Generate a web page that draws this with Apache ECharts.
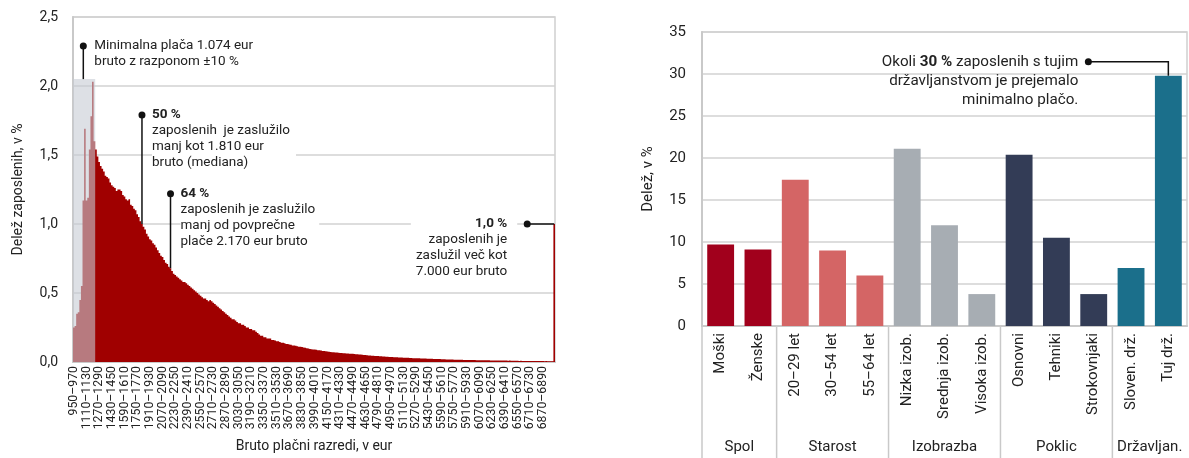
<!DOCTYPE html>
<html><head><meta charset="utf-8">
<script src="https://cdn.jsdelivr.net/npm/echarts@6/dist/echarts.min.js"></script>
<style>html,body{margin:0;padding:0;background:#fff}#c{width:1189px;height:458px}</style>
</head><body><div id="c"></div>
<script>
const FONT = 'Roboto, "Noto Sans", sans-serif';
const TXT = '#222';
const GRIDC = '#d2d2d2';

// ---------- Left panel: wage distribution ----------
const binStart = 950;
const binWidth = 20;
const lastBinLabel = '> 7000';
const histShares = [
  0.25, 0.26, 0.35, 0.36, 0.45, 0.55, 1.17, 1.69, 1.17, 1.19, 1.54, 1.78, 2.03, 1.60,
  1.54, 1.49, 1.45, 1.42, 1.40, 1.38, 1.35,
  1.34, 1.33, 1.30, 1.28, 1.27, 1.26, 1.24, 1.25,
  1.25, 1.24, 1.21, 1.20, 1.18, 1.17, 1.18,
  1.14, 1.13, 1.11, 1.10, 1.07, 1.05,
  1.02, 1.00, 0.98, 0.96, 0.93, 0.91,
  0.89, 0.88, 0.86, 0.85, 0.83, 0.81, 0.79,
  0.77, 0.76, 0.74, 0.72, 0.71, 0.69,
  0.68, 0.66, 0.64, 0.63, 0.62, 0.61,
  0.60, 0.59, 0.58, 0.58, 0.57, 0.56, 0.55,
  0.54, 0.53, 0.52, 0.51, 0.50, 0.49,
  0.48, 0.47, 0.46, 0.46, 0.45, 0.44, 0.45,
  0.44, 0.43, 0.42, 0.41, 0.40, 0.39,
  0.38, 0.37, 0.36, 0.35, 0.34, 0.33,
  0.32, 0.31, 0.31, 0.30, 0.29, 0.28,
  0.28, 0.27, 0.27, 0.26, 0.25, 0.25, 0.24,
  0.24, 0.23, 0.23, 0.22, 0.21, 0.20, 0.19, 0.19,
  0.18, 0.18, 0.17, 0.17, 0.17, 0.16, 0.16, 0.155,
  0.15, 0.15, 0.145, 0.14, 0.14, 0.135, 0.13, 0.13,
  0.127, 0.125, 0.12, 0.12, 0.118, 0.115, 0.11, 0.11,
  0.108, 0.105, 0.103, 0.10, 0.098, 0.095, 0.093, 0.09,
  0.09, 0.088, 0.086, 0.085, 0.083, 0.08, 0.079, 0.077,
  0.076, 0.074, 0.072, 0.071, 0.07, 0.069, 0.068, 0.067,
  0.066, 0.065, 0.064, 0.063, 0.062, 0.061, 0.06, 0.06,
  0.059, 0.058, 0.057, 0.056, 0.055, 0.054, 0.052, 0.051,
  0.05, 0.049, 0.048, 0.047, 0.046, 0.045, 0.044, 0.043,
  0.043, 0.042, 0.041, 0.04, 0.039, 0.038, 0.038, 0.037,
  0.036, 0.036, 0.035, 0.035, 0.034, 0.033, 0.033, 0.032,
  0.031, 0.031, 0.030, 0.030, 0.029, 0.029, 0.028, 0.028,
  0.028, 0.027, 0.027, 0.026, 0.026, 0.025, 0.025, 0.024,
  0.024, 0.023, 0.023, 0.022, 0.022, 0.022, 0.021, 0.021,
  0.020, 0.020, 0.020, 0.019, 0.019, 0.018, 0.018, 0.018,
  0.017, 0.017, 0.017, 0.016, 0.016, 0.016, 0.015, 0.015,
  0.015, 0.015, 0.014, 0.014, 0.014, 0.014, 0.013, 0.013,
  0.013, 0.013, 0.012, 0.012, 0.012, 0.012, 0.012, 0.011,
  0.011, 0.011, 0.011, 0.011, 0.010, 0.010, 0.010, 0.010,
  0.010, 0.010, 0.009, 0.010, 0.009, 0.009, 0.009, 0.009,
  0.009, 0.008, 0.009, 0.008, 0.008, 0.008, 0.008, 0.008,
  0.008, 0.007, 0.008, 0.007, 0.007, 0.007, 0.007, 0.007,
  0.007, 0.006, 0.007, 0.006, 0.006, 0.006, 0.006,
  1.0
];
const bandBins = 14;          // bins under the minimum-wage band
const bandTop = 2.05;         // height of the grey band
const leftTickLabels = ['0,0', '0,5', '1,0', '1,5', '2,0', '2,5'];
const minWage = 1074, medianWage = 1810, meanWage = 2170;

// ---------- Right panel: share on minimum wage by group ----------
const groupCats = ['Moški', 'Ženske', '20–29 let', '30–54 let', '55–64 let',
  'Nizka izob.', 'Srednja izob.', 'Visoka izob.', 'Osnovni', 'Tehniki', 'Strokovnjaki',
  'Sloven. drž.', 'Tuj drž.'];
const groupValues = [9.7, 9.1, 17.4, 9.0, 6.0, 21.1, 12.0, 3.8, 20.4, 10.5, 3.8, 6.9, 29.8];
const groupNames = ['Spol', 'Starost', 'Izobrazba', 'Poklic', 'Državljan.'];
const groupSizes = [2, 3, 3, 3, 2];
const groupColors = ['#a1001c', '#d46565', '#a7adb3', '#333c56', '#1b6f8b'];
const rightTickLabels = ['0', '5', '10', '15', '20', '25', '30', '35'];

// ---------- build ----------
const histCats = histShares.map((v, i) =>
  i === histShares.length - 1 ? lastBinLabel
    : (binStart + i * binWidth) + '–' + (binStart + (i + 1) * binWidth));
const groupOf = [];
groupSizes.forEach((s, g) => { for (let k = 0; k < s; k++) groupOf.push(g); });

const chart = echarts.init(document.getElementById('c'), null, { width: 1189, height: 458, renderer: 'canvas' });

const axisLineStyle = { color: '#c9c9c9', width: 2 };
const RED = '#a00000';

chart.setOption({
  animation: false,
  textStyle: { fontFamily: FONT },
  grid: [
    { left: 73, right: 634, top: 17, bottom: 93, show: true, borderColor: '#d0d0d0', borderWidth: 1.5, backgroundColor: '#fff' },
    { left: 702, right: 2, top: 32, bottom: 132, show: true, borderColor: '#d0d0d0', borderWidth: 1.5, backgroundColor: '#fff' }
  ],
  xAxis: [
    {
      type: 'category', gridIndex: 0, data: histCats,
      axisLine: { show: true, lineStyle: axisLineStyle },
      axisTick: { show: false },
      axisLabel: { interval: 7, rotate: 90, fontSize: 12.3, lineHeight: 12, color: TXT, margin: 4, fontFamily: FONT,
        hideOverlap: false, showMinLabel: true },
      name: 'Bruto plačni razredi, v eur', nameLocation: 'middle', nameGap: 77,
      nameTextStyle: { fontSize: 14, color: TXT, fontFamily: FONT }
    },
    {
      type: 'category', gridIndex: 1, data: groupCats,
      axisLine: { show: true, lineStyle: axisLineStyle },
      axisTick: { show: false },
      axisLabel: { interval: 0, rotate: 90, fontSize: 15, color: TXT, margin: 7, fontFamily: FONT }
    }
  ],
  yAxis: [
    {
      type: 'value', gridIndex: 0, min: 0, max: 2.5, interval: 0.5,
      axisLine: { show: true, lineStyle: axisLineStyle },
      axisLabel: { fontSize: 14, color: TXT, margin: 15, fontFamily: FONT,
        formatter: (v) => leftTickLabels[Math.round(v / 0.5)] },
      splitLine: { lineStyle: { color: GRIDC, width: 1.5 } },
      name: 'Delež zaposlenih, v %', nameLocation: 'middle', nameGap: 48,
      nameTextStyle: { fontSize: 14, color: TXT, fontFamily: FONT }
    },
    {
      type: 'value', gridIndex: 1, min: 0, max: 35, interval: 5,
      axisLine: { show: true, lineStyle: axisLineStyle },
      axisLabel: { fontSize: 15, color: TXT, margin: 16, fontFamily: FONT,
        formatter: (v) => rightTickLabels[Math.round(v / 5)] },
      splitLine: { lineStyle: { color: GRIDC, width: 1.5 } },
      name: 'Delež, v %', nameLocation: 'middle', nameGap: 46,
      nameTextStyle: { fontSize: 15, color: TXT, fontFamily: FONT }
    }
  ],
  series: [
    {
      type: 'bar', xAxisIndex: 0, yAxisIndex: 0, data: histShares,
      barCategoryGap: 0, large: true, largeThreshold: 50,
      itemStyle: { color: RED }, z: 2, silent: true
    },
    {
      type: 'bar', xAxisIndex: 1, yAxisIndex: 1,
      data: groupValues.map((v, i) => ({ value: v, itemStyle: { color: groupColors[groupOf[i]] } })),
      barCategoryGap: '28%', silent: true
    }
  ]
});

// ---------- annotations ----------
const P0 = (x, y) => chart.convertToPixel({ xAxisIndex: 0, yAxisIndex: 0 }, [x, y]);
const P1 = (x, y) => chart.convertToPixel({ xAxisIndex: 1, yAxisIndex: 1 }, [x, y]);
const binOf = (w) => Math.floor((w - binStart) / binWidth);

const g = [];
const LINE = '#111';
function leader(x1, y1, x2, y2) {
  g.push({ type: 'line', z: 100, shape: { x1, y1, x2, y2 }, style: { stroke: LINE, lineWidth: 1.5 } });
}
function dot(cx, cy) {
  g.push({ type: 'circle', z: 101, shape: { cx, cy, r: 3.5 }, style: { fill: LINE } });
}
function note(x, y, text, align, opts) {
  g.push(Object.assign({
    type: 'text', z: 99, x, y,
    style: Object.assign({
      text, fontSize: 13.5, fontFamily: FONT, fill: TXT, lineHeight: 16,
      align: align, verticalAlign: 'top',
      rich: {
        b: { fontWeight: 'bold', fontSize: 13.5, fontFamily: FONT, lineHeight: 16, align: align, fill: TXT },
        n: { fontSize: 13.5, fontFamily: FONT, lineHeight: 16, align: align, fill: TXT }
      }
    }, opts || {})
  }));
}

// minimum wage band (semi-transparent grey over the bars)
{
  const c0 = P0(0, bandTop);
  const c1 = P0(1, 0);
  const w = c1[0] - c0[0];
  const xl = c0[0] - w / 2;
  const xr = c0[0] + (bandBins - 0.5) * w;
  g.push({ type: 'rect', z: 10, shape: { x: xl, y: c0[1], width: xr - xl, height: c1[1] - c0[1] },
    style: { fill: 'rgba(198,203,211,0.6)' } });
  const bx = P0(binOf(minWage), 0)[0];
  const dy = P0(0, 2.29)[1];
  leader(bx, dy, bx, c0[1]);
  dot(bx, dy);
  note(bx + 11, dy - 8, '{n|Minimalna plača 1.074 eur}\n{n|bruto z razponom ±10 %}', 'left');
}
// median
{
  const b = binOf(medianWage);
  const [bx, by] = P0(b, histShares[b]);
  const dy = P0(0, 1.79)[1];
  leader(bx, dy, bx, by);
  dot(bx, dy);
  note(bx + 10, dy - 8, '{b|50 %}\n{n|zaposlenih  je zaslužilo}\n{n|manj kot 1.810 eur}\n{n|bruto (mediana)}', 'left',
    { backgroundColor: '#fff', padding: [0, 6, 0, 0] });
}
// mean
{
  const b = binOf(meanWage);
  const [bx, by] = P0(b, histShares[b]);
  const dy = P0(0, 1.22)[1];
  leader(bx, dy, bx, by);
  dot(bx, dy);
  note(bx + 10, dy - 8, '{b|64 %}\n{n|zaposlenih je zaslužilo}\n{n|manj od povprečne}\n{n|plače 2.170 eur bruto}', 'left',
    { backgroundColor: '#fff', padding: [0, 4, 0, 0] });
}
// top bin
{
  const b = histShares.length - 1;
  const [bx, by] = P0(b, histShares[b]);
  const dx = bx - 27;
  leader(dx, by, bx, by);
  dot(dx, by);
  note(dx - 10, by - 8, '{b|1,0 %}\n{n|zaposlenih je}\n{n|zaslužil več kot}\n{n|7.000 eur bruto}', 'right',
    { backgroundColor: '#fff', padding: [0, 10, 0, 5] });
}
// right panel note
{
  const b = groupCats.length - 1;
  const [bx, by] = P1(b, groupValues[b]);
  const dy = P1(0, 31.45)[1];
  const dx = bx - 80;
  g.push({ type: 'polyline', z: 100, shape: { points: [[dx, dy], [bx, dy], [bx, by]] },
    style: { stroke: LINE, lineWidth: 1.5, fill: null } });
  dot(dx, dy);
  g.push({
    type: 'text', z: 99, x: dx - 10, y: dy - 9.5,
    style: {
      text: '{n|Okoli }{b|30 %}{n| zaposlenih s tujim}\n{n|državljanstvom je prejemalo}\n{n|minimalno plačo.}',
      fontSize: 15.2, fontFamily: FONT, fill: TXT, lineHeight: 19, align: 'right', verticalAlign: 'top',
      rich: {
        b: { fontWeight: 'bold', fontSize: 15.2, fontFamily: FONT, lineHeight: 19, align: 'right', fill: TXT },
        n: { fontSize: 15.2, fontFamily: FONT, lineHeight: 19, align: 'right', fill: TXT }
      }
    }
  });
}
// right panel group separators and group labels
{
  const c0 = P1(0, 0);
  const c1 = P1(1, 0);
  const band = c1[0] - c0[0];
  const yTop = c0[1];
  let start = 0;
  groupSizes.forEach((s, gi) => {
    const xb = c0[0] + (start - 0.5) * band;
    g.push({ type: 'line', z: 50, shape: { x1: xb, y1: yTop, x2: xb, y2: 458 },
      style: { stroke: '#c9c9c9', lineWidth: 1.5 } });
    const xc = c0[0] + (start + s / 2 - 0.5) * band;
    g.push({ type: 'text', z: 50, x: xc, y: 447,
      style: { text: groupNames[gi], fontSize: 15, fontFamily: FONT, fill: TXT, align: 'center', verticalAlign: 'middle' } });
    start += s;
  });
}
chart.setOption({ graphic: g });
</script>
</body></html>
